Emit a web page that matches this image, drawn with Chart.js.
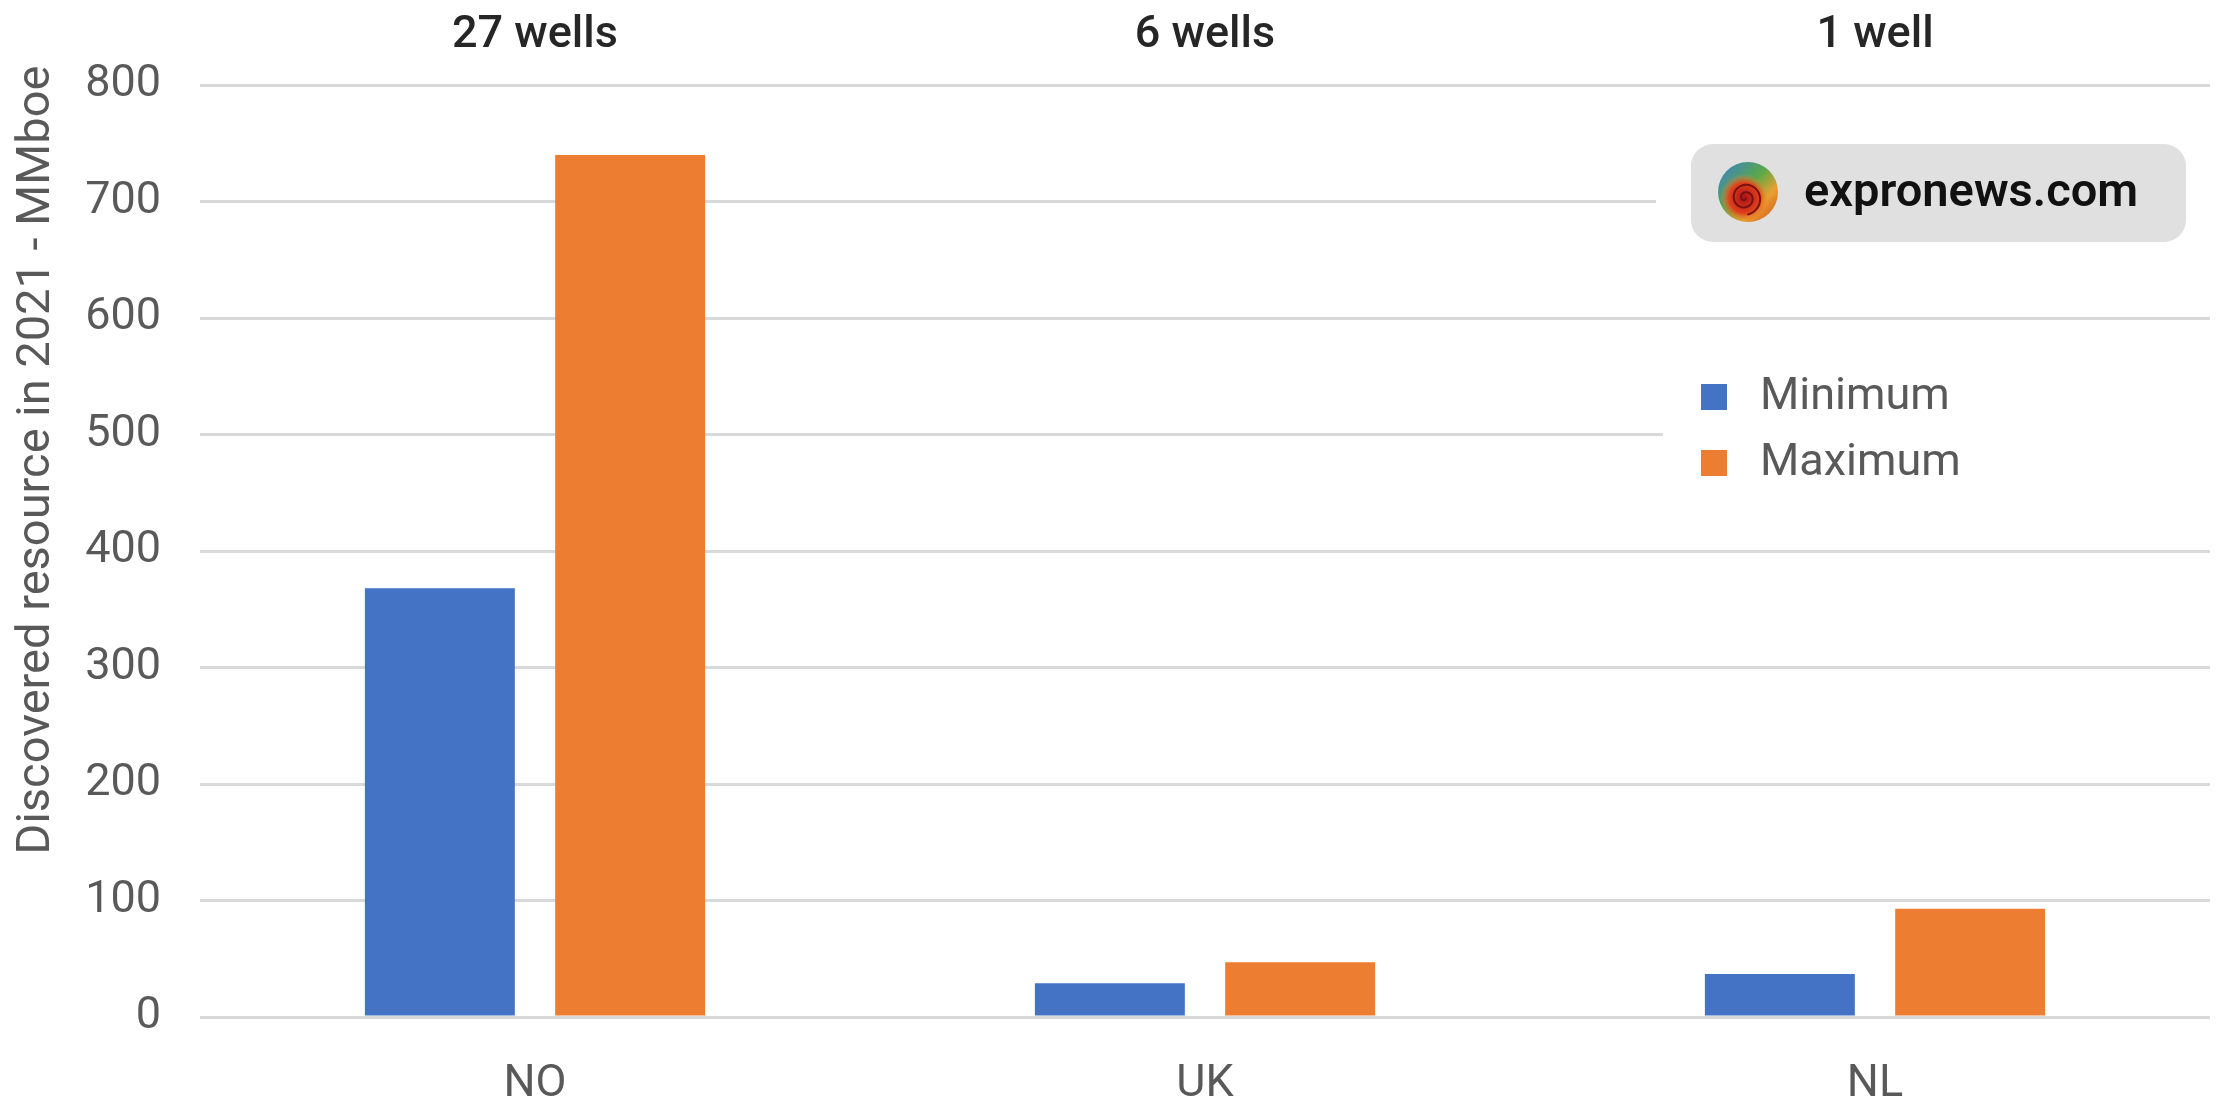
<!DOCTYPE html>
<html><head><meta charset="utf-8">
<script src="https://cdn.jsdelivr.net/npm/chart.js@4"></script>
<style>html,body{margin:0;padding:0;background:#fff}canvas{display:block}</style>
</head><body>
<canvas id="c" width="2216" height="1103"></canvas>
<script>
// ---- data ----
const categories = ['NO', 'UK', 'NL'];
const wellCounts = ['27 wells', '6 wells', '1 well'];
const seriesNames = ['Minimum', 'Maximum'];
const minimumValues = [368, 29, 37];
const maximumValues = [740, 47, 93];
const yMin = 0, yMax = 800, yStep = 100;
const yTitle = 'Discovered resource in 2021 - MMboe';
const watermarkText = 'expronews.com';

const FONT = 'Roboto, "DejaVu Sans", sans-serif';
const colors = ['#4472C4', '#ED7D31'];

const overlayPlugin = {
  id: 'overlay',
  afterDatasetsDraw(chart) {
    const ctx = chart.ctx;
    ctx.save();
    // white backing for watermark and legend
    ctx.fillStyle = '#ffffff';
    ctx.fillRect(1656, 130, 560, 125);
    ctx.fillRect(1663, 330, 553, 210);
    // watermark box
    const bx = 1691, by = 144, bw = 495, bh = 98, r = 22;
    ctx.fillStyle = '#e0e0e0';
    ctx.beginPath();
    ctx.moveTo(bx + r, by);
    ctx.arcTo(bx + bw, by, bx + bw, by + bh, r);
    ctx.arcTo(bx + bw, by + bh, bx, by + bh, r);
    ctx.arcTo(bx, by + bh, bx, by, r);
    ctx.arcTo(bx, by, bx + bw, by, r);
    ctx.closePath();
    ctx.fill();
    // logo
    const cx = 1748, cy = 192, cr = 30;
    let g = ctx.createLinearGradient(cx - cr, cy - cr, cx + cr, cy + cr);
    g.addColorStop(0, '#3a7fd0');
    g.addColorStop(0.45, '#5aa84a');
    g.addColorStop(0.7, '#e8a030');
    g.addColorStop(1, '#d24a1e');
    ctx.fillStyle = g;
    ctx.beginPath(); ctx.arc(cx, cy, cr, 0, Math.PI * 2); ctx.fill();
    let rg = ctx.createRadialGradient(cx - 4, cy + 6, 2, cx - 4, cy + 6, 24);
    rg.addColorStop(0, '#b01818');
    rg.addColorStop(0.6, '#e0401c');
    rg.addColorStop(1, 'rgba(240,140,40,0)');
    ctx.fillStyle = rg;
    ctx.beginPath(); ctx.arc(cx - 3, cy + 6, 24, 0, Math.PI * 2); ctx.fill();
    ctx.strokeStyle = '#7a1010'; ctx.lineWidth = 2;
    ctx.beginPath();
    for (let t = 0; t < 14; t += 0.2) {
      const rr = 1.2 * t;
      const px = cx - 3 + rr * Math.cos(t), py = cy + 6 + rr * Math.sin(t);
      if (t === 0) ctx.moveTo(px, py); else ctx.lineTo(px, py);
    }
    ctx.stroke();
    ctx.fillStyle = '#111111';
    ctx.font = '600 47px ' + FONT;
    ctx.textBaseline = 'middle';
    ctx.textAlign = 'left';
    ctx.fillText(watermarkText, 1804, 194);
    // legend
    ctx.font = '45px ' + FONT;
    chart.data.datasets.forEach((ds, i) => {
      const y = 397 + i * 66;
      ctx.fillStyle = ds.backgroundColor;
      ctx.fillRect(1701, y - 13, 26, 26);
      ctx.fillStyle = '#595959';
      ctx.fillText(ds.label, 1760, y + 1);
    });
    // y title
    ctx.translate(37, 460);
    ctx.rotate(-Math.PI / 2);
    ctx.textAlign = 'center';
    ctx.fillStyle = '#595959';
    ctx.font = '47px ' + FONT;
    ctx.fillText(yTitle, 0, 0);
    ctx.restore();
  }
};

new Chart(document.getElementById('c'), {
  type: 'bar',
  data: {
    labels: categories,
    datasets: [
      { label: seriesNames[0], data: minimumValues, backgroundColor: colors[0] },
      { label: seriesNames[1], data: maximumValues, backgroundColor: colors[1] }
    ]
  },
  options: {
    responsive: false,
    devicePixelRatio: 1,
    animation: false,
    categoryPercentage: 0.568,
    barPercentage: 0.788,
    layout: { padding: { left: 0, right: 6, top: 0, bottom: 0 } },
    plugins: { legend: { display: false }, tooltip: { enabled: false } },
    scales: {
      x: {
        position: 'bottom',
        grid: { display: false },
        border: { display: false },
        ticks: { color: '#595959', font: { family: FONT, size: 45 }, padding: 33 },
        afterFit: s => { s.height = 86; }
      },
      x2: {
        type: 'category',
        labels: wellCounts,
        position: 'top',
        offset: true,
        grid: { display: false },
        border: { display: false },
        ticks: { color: '#262626', font: { family: FONT, size: 45, weight: '500' }, padding: 14 },
        afterFit: s => { s.height = 85; }
      },
      y: {
        min: yMin, max: yMax,
        ticks: { stepSize: yStep, color: '#595959', font: { family: FONT, size: 45 }, padding: 39 },
        grid: { color: '#d9d9d9', lineWidth: 3, drawTicks: false },
        border: { display: false },
        afterFit: s => { s.width = 200; }
      }
    }
  },
  plugins: [overlayPlugin]
});
</script>
</body></html>
